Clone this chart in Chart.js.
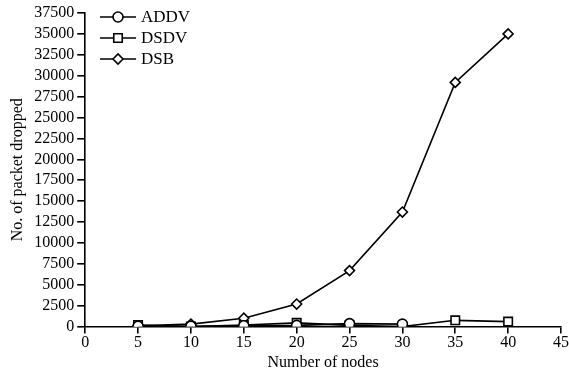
<!DOCTYPE html>
<html>
<head>
<meta charset="utf-8">
<script src="https://cdn.jsdelivr.net/npm/chart.js@4/dist/chart.umd.min.js"></script>
<style>
  html, body { margin: 0; padding: 0; background: #fff; }
  #wrap { width: 569px; height: 372px; }
</style>
</head>
<body>
<div id="wrap"><canvas id="grafico"></canvas></div>
<script>
// ===== Dados =====
const nos = [5, 10, 15, 20, 25, 30, 35, 40];
const addv = [50, 50, 100, 150, 350, 300, null, null];
const dsdv = [200, 0, 200, 450, 150, 0, 750, 600];
const dsb  = [100, 300, 1000, 2700, 6700, 13700, 29200, 35000];
const nomes = ['ADDV', 'DSDV', 'DSB'];
const estilos = ['circle', 'rect', 'rectRot'];

const fonte = 'Liberation Serif, Times New Roman, serif';

function serie(valores, i) {
    const pontos = [];
    nos.forEach((x, k) => { if (valores[k] != null) pontos.push({ x: x, y: valores[k] }); });
    return {
        label: nomes[i],
        data: pontos,
        borderColor: '#000',
        borderWidth: 1.6,
        backgroundColor: '#fff',
        pointStyle: estilos[i],
        pointRadius: i === 1 ? 6 : 5,
        pointBorderWidth: 1.6,
        pointBackgroundColor: '#fff',
        pointBorderColor: '#000',
        tension: 0
    };
}

// legenda desenhada dentro da área do gráfico
const legendaPlugin = {
    id: 'legendaInterna',
    afterDraw(chart) {
        const ctx = chart.ctx;
        const x0 = 100, x1 = 136;
        const ys = [17, 38, 59];
        ctx.save();
        ctx.font = '17px ' + fonte;
        ctx.textBaseline = 'middle';
        chart.data.datasets.forEach((ds, i) => {
            const y = ys[i];
            ctx.strokeStyle = '#000';
            ctx.lineWidth = 1.6;
            ctx.beginPath();
            ctx.moveTo(x0, y);
            ctx.lineTo(x1, y);
            ctx.stroke();
            ctx.fillStyle = '#fff';
            Chart.helpers.drawPoint(ctx, {
                pointStyle: ds.pointStyle,
                radius: ds.pointRadius,
                borderWidth: 1.6
            }, (x0 + x1) / 2, y);
            ctx.fillStyle = '#000';
            ctx.fillText(ds.label, x1 + 5, y + 1);
        });
        ctx.restore();
    }
};

new Chart(document.getElementById('grafico'), {
    type: 'line',
    data: {
        datasets: [serie(addv, 0), serie(dsdv, 1), serie(dsb, 2)]
    },
    options: {
        responsive: true,
        maintainAspectRatio: false,
        animation: false,
        layout: { padding: { top: 13, right: 0, left: 4, bottom: 0 } },
        plugins: {
            legend: { display: false },
            tooltip: { enabled: false }
        },
        scales: {
            x: {
                type: 'linear',
                min: 0,
                max: 45,
                ticks: { stepSize: 5, autoSkip: false, maxRotation: 0, color: '#000', font: { family: fonte, size: 16 }, padding: 0 },
                grid: { drawOnChartArea: false, color: '#000', tickLength: 7, lineWidth: 1.6 },
                border: { color: '#000', width: 1.6 },
                title: { display: true, text: 'Number of nodes', color: '#000', font: { family: fonte, size: 16 }, padding: { top: 0, bottom: 0 } }
            },
            y: {
                min: 0,
                max: 37500,
                ticks: {
                    stepSize: 2500, autoSkip: false, color: '#000', font: { family: fonte, size: 16 }, padding: 3,
                    callback: v => String(v)
                },
                grid: { drawOnChartArea: false, color: '#000', tickLength: 8, lineWidth: 1.6 },
                border: { color: '#000', width: 1.6 },
                title: { display: true, text: 'No. of packet dropped', color: '#000', font: { family: fonte, size: 16 }, padding: { bottom: 4 } }
            }
        }
    },
    plugins: [legendaPlugin]
});
</script>
</body>
</html>
